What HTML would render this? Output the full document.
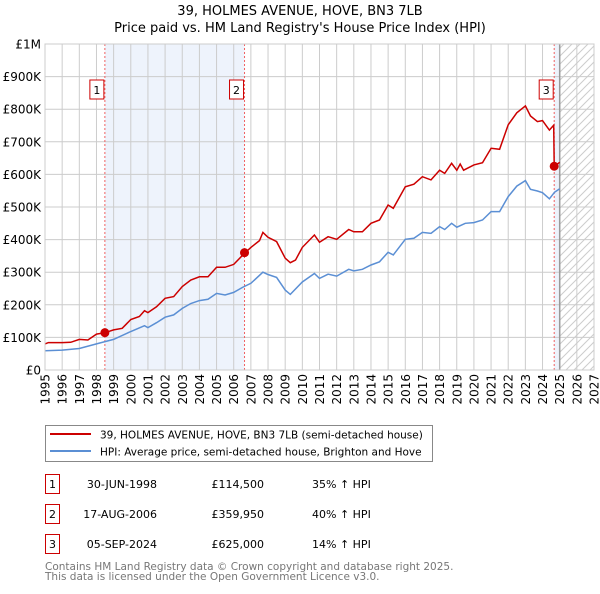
<!DOCTYPE html>
<html><head><meta charset="utf-8"><style>
body{margin:0;background:#fff;width:600px;height:590px;overflow:hidden;font-family:"DejaVu Sans","Liberation Sans",sans-serif;}
svg text{font-family:"DejaVu Sans","Liberation Sans",sans-serif;}
</style></head><body>
<svg id="chart" width="600" height="590" xmlns="http://www.w3.org/2000/svg">
<text x="300" y="15" text-anchor="middle" font-size="13">39, HOLMES AVENUE, HOVE, BN3 7LB</text>
<text x="300" y="32" text-anchor="middle" font-size="13">Price paid vs. HM Land Registry's House Price Index (HPI)</text>
<g id="plot"></g>
<g>
<rect x="45.5" y="425.5" width="387" height="36" fill="#fff" stroke="#888"/>
<line x1="50" y1="434" x2="91" y2="434" stroke="#cc0000" stroke-width="2"/>
<text x="100" y="438.5" font-size="10.5">39, HOLMES AVENUE, HOVE, BN3 7LB (semi-detached house)</text>
<line x1="50" y1="451" x2="91" y2="451" stroke="#5b8fd4" stroke-width="2"/>
<text x="100" y="455.5" font-size="10.5">HPI: Average price, semi-detached house, Brighton and Hove</text>
</g>
<g id="table" font-size="11"></g>
<text x="45" y="570" font-size="10.5" fill="#777">Contains HM Land Registry data © Crown copyright and database right 2025.</text>
<text x="45" y="580" font-size="10.5" fill="#777">This data is licensed under the Open Government Licence v3.0.</text>
</svg>
<script>
const hpiYears=[1995,1996,1997,1998,1998.5,1999,2000,2000.8,2001,2001.5,2002,2002.5,2003,2003.5,2004,2004.5,2005,2005.5,2006,2006.5,2007,2007.7,2008,2008.5,2009,2009.3,2010,2010.7,2011,2011.5,2012,2012.7,2013,2013.5,2014,2014.5,2015,2015.3,2016,2016.5,2017,2017.5,2018,2018.3,2018.7,2019,2019.5,2020,2020.5,2021,2021.5,2022,2022.5,2023,2023.3,2023.7,2024,2024.4,2024.7,2025];
const hpiValues=[59,61,66,80,87,94,118,136,130,145,162,169,189,204,213,217,235,230,238,253,266,300,293,284,245,232,270,296,281,294,288,309,304,309,322,332,361,353,401,404,422,419,440,431,450,438,450,452,460,486,486,532,564,581,554,549,544,525,545,556];
const priceYears=[1995,1995.2,1996,1996.5,1997,1997.5,1998,1998.5,1999,1999.5,2000,2000.5,2000.8,2001,2001.5,2002,2002.5,2003,2003.5,2004,2004.5,2005,2005.5,2006,2006.63,2007,2007.5,2007.7,2008,2008.5,2009,2009.3,2009.6,2010,2010.7,2011,2011.5,2012,2012.7,2013,2013.5,2014,2014.5,2015,2015.3,2016,2016.5,2017,2017.5,2018,2018.3,2018.7,2019,2019.2,2019.4,2020,2020.5,2021,2021.5,2022,2022.5,2023,2023.3,2023.7,2024,2024.4,2024.65,2024.68,2025];
const priceValues=[80,84,84,85,94,92,110,114.5,123,128,155,164,182,176,194,220,225,256,276,286,286,315,315,324,358,376,397,422,407,394,343,329,337,376,414,392,409,401,431,424,424,450,460,506,496,562,570,593,583,613,603,634,613,632,613,629,636,680,677,752,789,810,779,762,765,736,751,625,637];
const saleYears=[1998.49,2006.63,2024.68];
const salePrices=[114.5,359.95,625];
const saleLabels=["1","2","3"];
const saleDates=["30-JUN-1998","17-AUG-2006","05-SEP-2024"];
const salePriceText=["£114,500","£359,950","£625,000"];
const saleHpiText=["35% ↑ HPI","40% ↑ HPI","14% ↑ HPI"];
const yTicks=[0,100,200,300,400,500,600,700,800,900,1000];
const yTickLabels=["£0","£100K","£200K","£300K","£400K","£500K","£600K","£700K","£800K","£900K","£1M"];
const xTicks=[1995,1996,1997,1998,1999,2000,2001,2002,2003,2004,2005,2006,2007,2008,2009,2010,2011,2012,2013,2014,2015,2016,2017,2018,2019,2020,2021,2022,2023,2024,2025,2026,2027];

const NS="http://www.w3.org/2000/svg";
const X0=45,X1=594,Y0=370,Y1=44,XMIN=1995,XMAX=2027;
const xs=v=>X0+(v-XMIN)/(XMAX-XMIN)*(X1-X0);
const ys=v=>Y0-v/1000*(Y0-Y1);
const plot=document.getElementById('plot');
function mk(tag,attrs,parent){const e=document.createElementNS(NS,tag);for(const k in attrs)e.setAttribute(k,attrs[k]);(parent||plot).appendChild(e);return e;}
const defs=mk('defs',{});
const pat=mk('pattern',{id:'hatch',width:8,height:8,patternUnits:'userSpaceOnUse'},defs);
mk('path',{d:'M-1,9 L9,-1 M-1,1 L1,-1 M7,9 L9,7',stroke:'#ccc','stroke-width':1},pat);
let r;
r=mk('rect',{x:xs(saleYears[0]),y:Y1,width:xs(saleYears[1])-xs(saleYears[0]),height:Y0-Y1,fill:'#eef3fc'});


r=mk('rect',{x:xs(saleYears[2]),y:Y1,width:xs(2025)-xs(saleYears[2]),height:Y0-Y1,fill:'#eef3fc'});


r=mk('rect',{x:xs(2025),y:Y1,width:X1-xs(2025),height:Y0-Y1,fill:'url(#hatch)'});


yTicks.forEach((t,i)=>{
 const l=mk('line',{x1:X0,x2:X1,y1:ys(t),y2:ys(t),stroke:'#ccc','stroke-width':1});
 
 
 const tx=mk('text',{x:X0-4,y:ys(t)+4.5,'text-anchor':'end','font-size':12});
 tx.textContent=yTickLabels[i];
 
 
});
xTicks.forEach(t=>{
 const l=mk('line',{x1:xs(t),x2:xs(t),y1:Y1,y2:Y0,stroke:'#ccc','stroke-width':1});
 
 
 const tx=mk('text',{x:0,y:0,'text-anchor':'end','font-size':12,transform:`translate(${xs(t)+4.5},374) rotate(-90)`});
 tx.textContent=t;
 
 
});
mk('line',{x1:xs(2025),x2:xs(2025),y1:Y1,y2:Y0,stroke:'#999','stroke-width':1.5});
saleYears.forEach((s,i)=>{
 const l=mk('line',{x1:xs(s),x2:xs(s),y1:Y1,y2:Y0,stroke:'#f06060','stroke-width':1,'stroke-dasharray':'2,2'});
 
 
});
const path=(xa,va)=>xa.map((x,i)=>(i?'L':'M')+xs(x).toFixed(1)+','+ys(va[i]).toFixed(1)).join('');
const hp=mk('path',{d:path(hpiYears,hpiValues),fill:'none',stroke:'#5b8fd4','stroke-width':1.5});


const pp=mk('path',{d:path(priceYears,priceValues),fill:'none',stroke:'#cc0000','stroke-width':1.5});


saleYears.forEach((s,i)=>{
 const c=mk('circle',{cx:xs(s),cy:ys(salePrices[i]),r:4.5,fill:'#cc0000'});
 
 
 const b=mk('rect',{x:xs(s)-15,y:80,width:14,height:19,fill:'#fff',stroke:'#cc0000'});
 
 
 const t=mk('text',{x:xs(s)-8,y:94,'text-anchor':'middle','font-size':11});
 t.textContent=saleLabels[i];
 
 
});
mk('rect',{x:X0,y:Y1,width:X1-X0,height:Y0-Y1,fill:'none',stroke:'#ccc'});
const tbl=document.getElementById('table');
saleYears.forEach((s,i)=>{
 const y=483+i*30;
 const b=mk('rect',{x:45.5,y:y-8.5,width:14,height:19,fill:'#fff',stroke:'#cc0000'},tbl);
 
 
 const cells=[[52.5,saleLabels[i],'middle'],[157,saleDates[i],'end'],[264,salePriceText[i],'end'],[312,saleHpiText[i],'start']];
 cells.forEach(c=>{const t=mk('text',{x:c[0],y:y+5,'text-anchor':c[2]},tbl);t.textContent=c[1];
 
 });
});
</script>
</body></html>
